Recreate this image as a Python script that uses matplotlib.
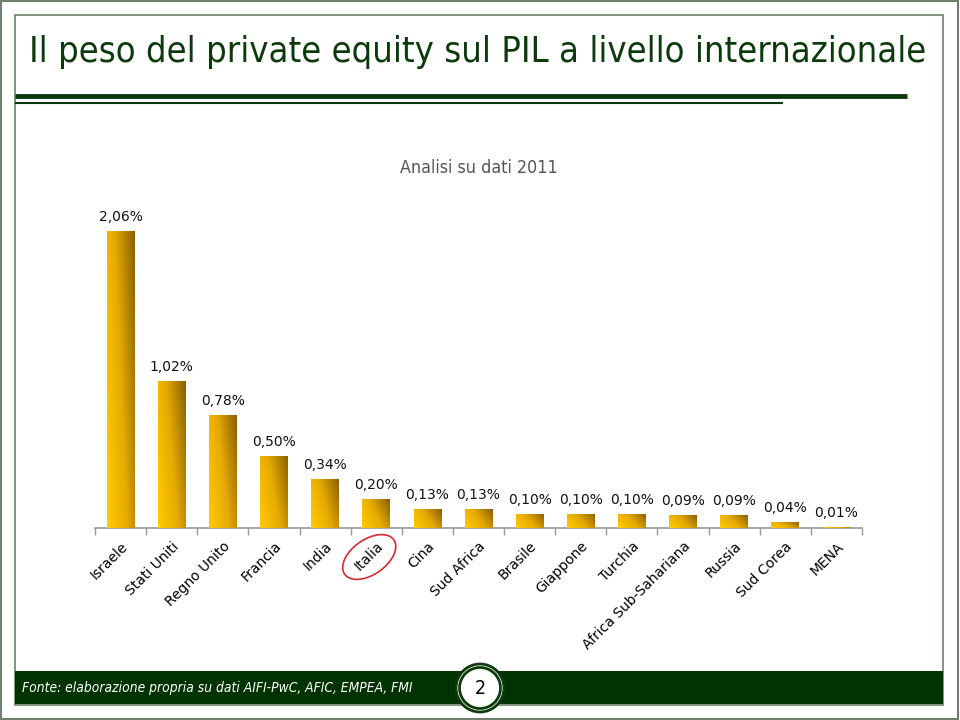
import numpy as np
import matplotlib
matplotlib.use("Agg")
import matplotlib.pyplot as plt
import matplotlib.patches as mpatches
import matplotlib.transforms as mtransforms
from matplotlib import font_manager
from matplotlib.colors import LinearSegmentedColormap

###################################################################
# Data
###################################################################
countries = ["Israele", "Stati Uniti", "Regno Unito", "Francia", "India",
             "Italia", "Cina", "Sud Africa", "Brasile", "Giappone", "Turchia",
             "Africa Sub-Sahariana", "Russia", "Sud Corea", "MENA"]
pe_share = [2.06, 1.02, 0.78, 0.50, 0.34, 0.20, 0.13, 0.13, 0.10, 0.10,
            0.10, 0.09, 0.09, 0.04, 0.01]
highlight = "Italia"

title = "Il peso del private equity sul PIL a livello internazionale"
subtitle = "Analisi su dati 2011"
source = "Fonte: elaborazione propria su dati AIFI-PwC, AFIC, EMPEA, FMI"
page_no = "2"

###################################################################
# Style
###################################################################
W, H = 960, 720
GREEN = "#0d3a0d"
BAND = "#003300"
FRAME = "#6f806f"

# the slide uses a narrow face; use a condensed one if there is one installed
_cond = font_manager.FontProperties(family="DejaVu Sans", stretch="condensed")
HAS_COND = "condensed" in font_manager.findfont(_cond).lower()
if HAS_COND:
    NARROW = dict(family="DejaVu Sans", stretch="condensed")
    t_size, s_size, f_size = 26, 12.8, 9.9
else:
    NARROW = dict(family="DejaVu Sans")
    t_size, s_size, f_size = 21, 11.5, 8.4

fig = plt.figure(figsize=(W / 100, H / 100), dpi=100)
fig.patch.set_facecolor("white")


def px(x, y):
    # pixel (from top-left) -> figure fraction
    return x / W, 1 - y / H


###################################################################
# Slide decoration
###################################################################
fig.add_artist(mpatches.Rectangle(px(1, 719), 957 / W, 718 / H, transform=fig.transFigure,
                                  fill=False, ec=FRAME, lw=1.5))
fig.add_artist(mpatches.Rectangle(px(15, 705), 928 / W, 690 / H, transform=fig.transFigure,
                                  fill=False, ec=FRAME, lw=1.2))
fig.add_artist(mpatches.Rectangle(px(15, 704), 928 / W, 33 / H, transform=fig.transFigure,
                                  fc=BAND, ec="none"))
fig.add_artist(plt.Line2D([15 / W, 907 / W], [1 - 95.5 / H] * 2, transform=fig.transFigure,
                          color=GREEN, lw=3.5, solid_capstyle="butt"))
fig.add_artist(plt.Line2D([15 / W, 783 / W], [1 - 102.5 / H] * 2, transform=fig.transFigure,
                          color=GREEN, lw=1.5, solid_capstyle="butt"))

fig.text(*px(478, 52), title, fontsize=t_size, color=GREEN,
         ha="center", va="center", **NARROW)
fig.text(*px(479, 168), subtitle, fontsize=s_size, color="#555555",
         ha="center", va="center", **NARROW)
fig.text(*px(22, 688), source, fontsize=f_size, color="white",
         style="italic", ha="left", va="center", **NARROW)

# page number badge
cx, cy = px(480, 688)
for r, lw in [(24, 2.0), (20.5, 2.0)]:
    fig.add_artist(mpatches.Ellipse((cx, cy), 2 * r / W, 2 * r / H, transform=fig.transFigure,
                                    fc="white", ec=GREEN, lw=lw))
fig.text(cx, cy, page_no, fontsize=14, color="black",
         ha="center", va="center", **NARROW)

###################################################################
# Chart
###################################################################
ax = fig.add_axes([95 / W, 1 - 528 / H, 767 / W, 346.5 / H])
x = np.arange(len(countries))
bars = ax.bar(x, pe_share, width=0.54, color="#e0aa00", zorder=2)

# gradient fill on each bar
gold = LinearSegmentedColormap.from_list("gold", ["#ffcc00", "#e6aa00", "#8a6000"])
gx, gy = np.meshgrid(np.linspace(0, 1, 64), np.linspace(0, 1, 64))
grad = 0.68 * gx + 0.32 * gy
for b in bars:
    x0, w, h = b.get_x(), b.get_width(), b.get_height()
    im = ax.imshow(grad, cmap=gold, vmin=0, vmax=1, origin="lower", aspect="auto",
                   extent=[x0, x0 + w, 0, h], zorder=3, interpolation="bilinear")
    im.set_clip_path(b)
ax.set_xlim(-0.5, len(countries) - 0.5)
ax.set_ylim(0, 2.4)

for xi, v in zip(x, pe_share):
    ax.annotate(f"{v:.2f}%".replace(".", ","), (xi, v), xytext=(0, 5),
                textcoords="offset points", ha="center", va="bottom",
                fontsize=10, color="#111111", family="DejaVu Sans")

for side in ["top", "right", "left"]:
    ax.spines[side].set_visible(False)
ax.spines["bottom"].set_color("#9a9a9a")
ax.spines["bottom"].set_linewidth(1.2)
ax.set_yticks([])
ax.set_xticks(x)
ax.set_xticklabels(countries, rotation=45, ha="right", va="top",
                   rotation_mode="anchor", fontsize=10, family="DejaVu Sans")
ax.tick_params(axis="x", which="major", length=0, pad=8)
ax.set_xticks(np.arange(-0.5, len(countries)), minor=True)
ax.tick_params(axis="x", which="minor", length=5, color="#9a9a9a", width=1)
ax.patch.set_alpha(0)

# red ring around the highlighted label
hi = countries.index(highlight)
ring_tr = fig.dpi_scale_trans + mtransforms.ScaledTranslation(hi, 0, ax.transData)
ax.add_artist(mpatches.Ellipse((-0.07, -0.29), 0.6, 0.35, angle=35, transform=ring_tr,
                               fill=False, ec="#d42a35", lw=1.2, clip_on=False))

fig.savefig("out.png", dpi=100, facecolor="white")
